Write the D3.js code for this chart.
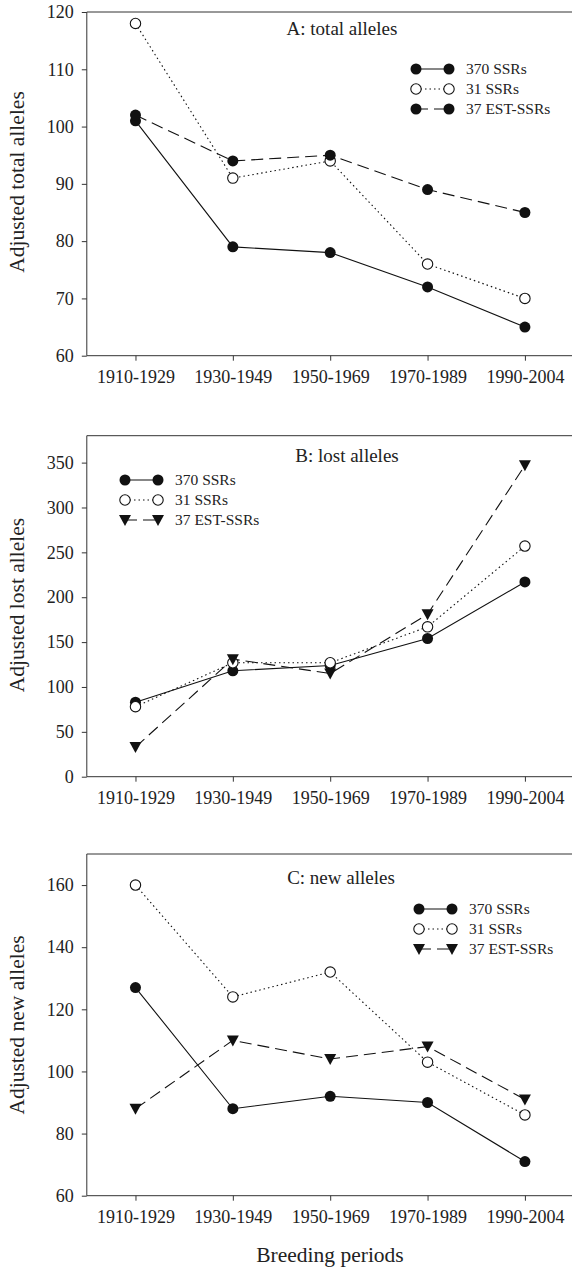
<!DOCTYPE html>
<html>
<head>
<meta charset="utf-8">
<script src="https://cdn.jsdelivr.net/npm/d3@7"></script>
<style>
  body { margin: 0; background: #fff; }
  svg text { font-family: "Liberation Serif", "Times New Roman", serif; fill: #222; }
</style>
</head>
<body>
<svg id="chart" width="572" height="1271"></svg>
<script>
// breeding periods on x axis
var periods = ["1910-1929", "1930-1949", "1950-1969", "1970-1989", "1990-2004"];
var seriesNames = ["370 SSRs", "31 SSRs", "37 EST-SSRs"];

// A: total alleles
var totalSSR370 = [101, 79, 78, 72, 65];
var totalSSR31 = [118, 91, 94, 76, 70];
var totalEST37 = [102, 94, 95, 89, 85];
var totalTicks = [60, 70, 80, 90, 100, 110, 120];

// B: lost alleles
var lostSSR370 = [83, 118, 124, 154, 217];
var lostSSR31 = [78, 127, 127, 167, 257];
var lostEST37 = [33, 131, 115, 181, 347];
var lostTicks = [0, 50, 100, 150, 200, 250, 300, 350];

// C: new alleles
var newSSR370 = [127, 88, 92, 90, 71];
var newSSR31 = [160, 124, 132, 103, 86];
var newEST37 = [88, 110, 104, 108, 91];
var newTicks = [60, 80, 100, 120, 140, 160];

var svg = d3.select("#chart");
var left = 86.8, right = 573.6;

var x = d3.scalePoint()
  .domain(periods)
  .range([left, right])
  .padding(0.5);

// one panel
function panel(opt) {
  var y = d3.scaleLinear().domain(opt.domain).range([opt.bottom, opt.top]);
  var g = svg.append("g");

  // frame top + right
  g.append("path")
    .attr("d", "M" + left + "," + opt.top + "H" + right + "V" + opt.bottom)
    .attr("fill", "none").attr("stroke", "#333").attr("stroke-width", 1);

  var ya = g.append("g")
    .attr("transform", "translate(" + left + ",0)")
    .call(d3.axisLeft(y).tickValues(opt.ticks).tickSize(5).tickSizeOuter(0).tickPadding(8));
  ya.select(".domain").attr("d", "M0," + opt.bottom + "V" + opt.top);

  var xa = g.append("g")
    .attr("transform", "translate(0," + opt.bottom + ")")
    .call(d3.axisBottom(x).tickSize(5).tickSizeOuter(0).tickPadding(10));
  xa.select(".domain").attr("d", "M" + left + ",0H" + right);

  g.selectAll(".tick text").style("font-size", "18px").attr("fill", "#222");
  g.selectAll(".domain, .tick line").attr("stroke", "#333");

  // y title
  g.append("text")
    .attr("transform", "translate(24," + opt.ymid + ") rotate(-90)")
    .attr("text-anchor", "middle")
    .style("font-size", "21.5px")
    .text(opt.ytitle);

  // panel title
  g.append("text")
    .attr("x", opt.titleX).attr("y", opt.titleY)
    .attr("text-anchor", "middle")
    .style("font-size", "19px")
    .text(opt.title);

  var styles = [
    { dash: null, mark: "dot" },
    { dash: "1.5,3", mark: "open" },
    { dash: "12,6", mark: opt.estMark }
  ];

  var line = d3.line()
    .x(function(d, i) { return x(periods[i]); })
    .y(function(d) { return y(d); });

  opt.series.forEach(function(vals, k) {
    g.append("path")
      .datum(vals)
      .attr("d", line)
      .attr("fill", "none")
      .attr("stroke", "#111")
      .attr("stroke-width", 1.1)
      .attr("stroke-dasharray", styles[k].dash);
  });

  opt.series.forEach(function(vals, k) {
    vals.forEach(function(v, i) {
      marker(g, styles[k].mark, x(periods[i]), y(v));
    });
  });

  // legend
  var lg = g.append("g");
  seriesNames.forEach(function(name, k) {
    var ly = opt.legY + k * 20;
    lg.append("line")
      .attr("x1", opt.legX).attr("x2", opt.legX + 33)
      .attr("y1", ly).attr("y2", ly)
      .attr("stroke", "#111").attr("stroke-width", 1.1)
      .attr("stroke-dasharray", styles[k].dash);
    marker(lg, styles[k].mark, opt.legX, ly);
    marker(lg, styles[k].mark, opt.legX + 33, ly);
    lg.append("text")
      .attr("x", opt.legX + 50).attr("y", ly + 5)
      .style("font-size", "15.5px")
      .text(name);
  });
}

function marker(g, type, cx, cy) {
  if (type == "dot") {
    g.append("circle").attr("cx", cx).attr("cy", cy).attr("r", 5.5).attr("fill", "#111");
  } else if (type == "open") {
    g.append("circle").attr("cx", cx).attr("cy", cy).attr("r", 5.2)
      .attr("fill", "#fff").attr("stroke", "#111").attr("stroke-width", 1.1);
  } else {
    g.append("path")
      .attr("d", "M" + (cx - 6) + "," + (cy - 5) + "H" + (cx + 6) + "L" + cx + "," + (cy + 6) + "Z")
      .attr("fill", "#111");
  }
}

panel({
  domain: [60, 120], ticks: totalTicks, top: 12, bottom: 355.7,
  title: "A: total alleles", titleX: 342, titleY: 35,
  ytitle: "Adjusted total alleles", ymid: 182,
  series: [totalSSR370, totalSSR31, totalEST37], estMark: "dot",
  legX: 416, legY: 69
});

panel({
  domain: [0, 380], ticks: lostTicks, top: 435.7, bottom: 776.7,
  title: "B: lost alleles", titleX: 347, titleY: 462,
  ytitle: "Adjusted lost alleles", ymid: 605,
  series: [lostSSR370, lostSSR31, lostEST37], estMark: "tri",
  legX: 125, legY: 480
});

panel({
  domain: [60, 170], ticks: newTicks, top: 854, bottom: 1195.7,
  title: "C: new alleles", titleX: 341, titleY: 884,
  ytitle: "Adjusted new alleles", ymid: 1025,
  series: [newSSR370, newSSR31, newEST37], estMark: "tri",
  legX: 419, legY: 909
});

svg.append("text")
  .attr("x", 330).attr("y", 1262)
  .attr("text-anchor", "middle")
  .style("font-size", "21.5px")
  .text("Breeding periods");
</script>
</body>
</html>
